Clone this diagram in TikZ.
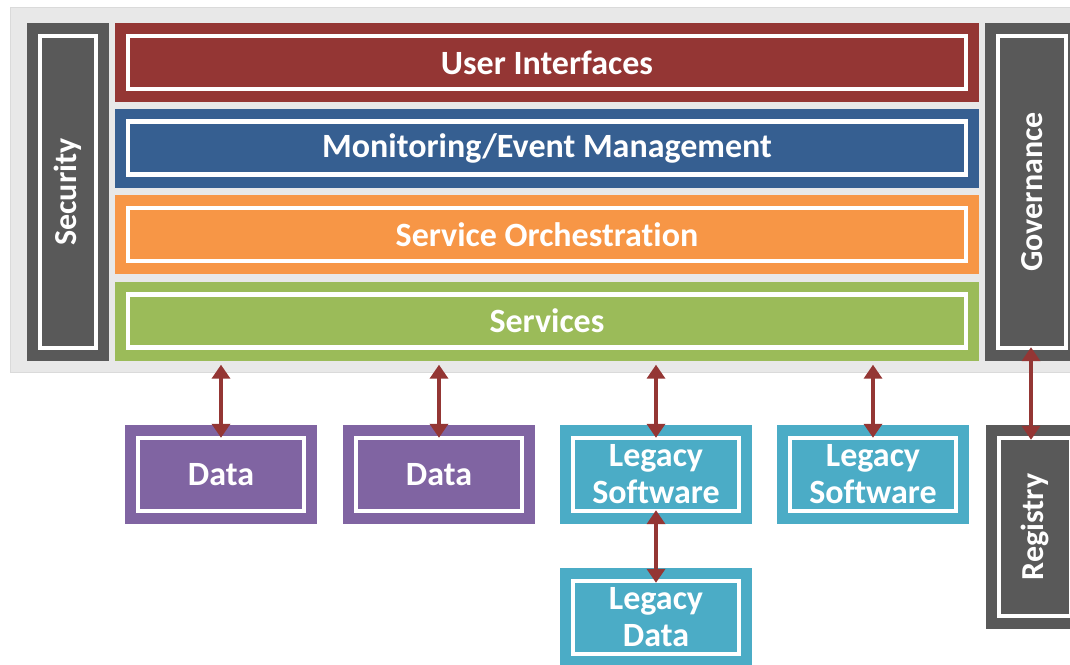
\documentclass[tikz,border=0pt]{standalone}
\usepackage{fontspec}
\setmainfont{Carlito}[Ligatures=NoCommon]
\usetikzlibrary{arrows.meta,calc}

\definecolor{uired}{HTML}{943634}
\definecolor{monblue}{HTML}{365F91}
\definecolor{orchorange}{HTML}{F79646}
\definecolor{svcgreen}{HTML}{9BBB59}
\definecolor{datapurple}{HTML}{8064A2}
\definecolor{legacyteal}{HTML}{4BACC6}
\definecolor{sidegray}{HTML}{595959}
\definecolor{panelgray}{HTML}{E8E8E8}
\definecolor{paneledge}{HTML}{DADADA}

\tikzset{
  framed/.style={
    draw=none, fill=#1, text=white, inner sep=0pt,
    font=\bfseries\fontsize{34}{37}\selectfont, align=center,
    path picture={
      \draw[white, line width=4.5pt]
        ([shift={(13pt,-13pt)}]path picture bounding box.north west)
        rectangle
        ([shift={(-13pt,13pt)}]path picture bounding box.south east);
    }
  },
  layer/.style={framed=#1, minimum width=864pt, minimum height=79pt},
  sidebar/.style={framed=sidegray, minimum height=338pt,
    font=\bfseries\fontsize{32}{36}\selectfont},
  source/.style={framed=#1, minimum width=192pt, minimum height=99pt},
  link/.style={draw=uired, line width=4pt,
    {Triangle[width=18pt,length=14pt]}-{Triangle[width=18pt,length=14pt]}}
}

\begin{document}
\begin{tikzpicture}[x=1pt,y=-1pt]
  \useasboundingbox (0,0) rectangle (1070,664);

  % light backdrop behind the stack
  \node[draw=paneledge, fill=panelgray, line width=1pt, inner sep=0pt,
        minimum width=1075pt, minimum height=365pt] (panel) at (547.5,189.5) {};

  % vertical side bars
  \node[sidebar, minimum width=82pt] (sec) at (68,192)
    {\rotatebox{90}{Security}};
  \node[sidebar, minimum width=94pt] (gov) at (1032,192)
    {\rotatebox{90}{Governance}};

  % horizontal layers
  \node[layer=uired]       (ui)   at (547,62.5) {User Interfaces};
  \node[layer=monblue]     (mon)  at (547,148)  {Monitoring/Event Management};
  \node[layer=orchorange]  (orch) at (547,234.5){Service Orchestration};
  \node[layer=svcgreen]    (svc)  at (547,321)  {Services};

  % data sources below the stack
  \node[source=datapurple] (d1)  at (221,474.5) {Data};
  \node[source=datapurple] (d2)  at (439,474.5) {Data};
  \node[source=legacyteal] (ls1) at (656,474.5) {Legacy\\Software};
  \node[source=legacyteal] (ls2) at (873,474.5) {Legacy\\Software};
  \node[source=legacyteal] (ld)  at (656,617.5) {Legacy\\Data};

  % registry
  \node[framed=sidegray, minimum width=98pt, minimum height=204pt,
        font=\bfseries\fontsize{32}{36}\selectfont] (reg)
    at (1035,527) {\rotatebox{90}{Registry}};

  % connectors
  \foreach \n in {d1,d2,ls1,ls2}{
    \draw[link] ($(svc.south -| \n.north)+(0,4)$) -- ($(\n.north)+(0,13)$);
  }
  \draw[link] ($(ls1.south)+(0,-14)$) -- ($(ld.north)+(0,15)$);
  \draw[link] ($(gov.south)+(-1,-14)$) -- ($(reg.north -| gov.south)+(-1,15)$);
\end{tikzpicture}
\end{document}
